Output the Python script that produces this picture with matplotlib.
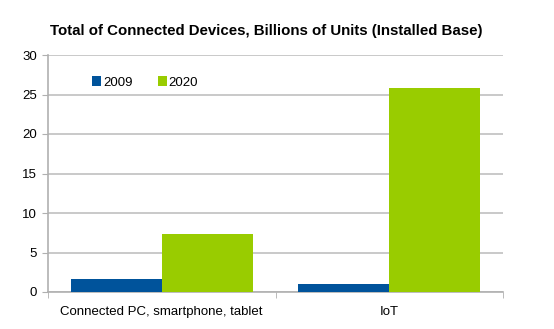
import matplotlib.pyplot as plt
import numpy as np

categories = ["Connected PC, smartphone, tablet", "IoT"]
series_names = ["2009", "2020"]
values_2009 = [1.6, 0.95]
values_2020 = [7.3, 25.8]
colors = ["#00539b", "#99cc00"]

plt.rcParams["font.family"] = ["Liberation Sans", "DejaVu Sans"]

fig = plt.figure(figsize=(5.54, 3.29), dpi=100)
ax = fig.add_axes([48 / 554, 1 - 292 / 329, 455 / 554, 237 / 329])

x = np.arange(len(categories))
w = 0.4
ax.bar(x - w / 2, values_2009, w, color=colors[0], label=series_names[0], zorder=3)
ax.bar(x + w / 2, values_2020, w, color=colors[1], label=series_names[1], zorder=3)

ax.set_xlim(-0.5, len(categories) - 0.5)
ax.set_ylim(0, 30)
ax.set_yticks(range(0, 31, 5))
ax.yaxis.grid(True, color="#c0c0c0", linewidth=1.2, zorder=0)

ax.set_xticks(x)
ax.set_xticklabels(categories, fontsize=9.5)
ax.set_xticks([-0.5, 0.5, 1.5], minor=True)
ax.tick_params(axis="x", which="major", length=0, pad=10)
ax.tick_params(axis="x", which="minor", length=4, color="#b0b0b0", direction="out")
ax.tick_params(axis="y", labelsize=9.5, length=4, color="#b0b0b0", pad=4)

for s in ["top", "right"]:
    ax.spines[s].set_visible(False)
for s in ["left", "bottom"]:
    ax.spines[s].set_color("#b0b0b0")
    ax.spines[s].set_linewidth(1.2)

ax.legend(loc="upper left", bbox_to_anchor=(0.07, 0.96), ncol=2, frameon=False,
          fontsize=9.5, handlelength=0.7, handleheight=0.7, handletextpad=0.15,
          columnspacing=1.9)

fig.suptitle("Total of Connected Devices, Billions of Units (Installed Base)",
             x=266 / 554, y=1 - 24 / 329, fontsize=10.8, fontweight="bold")

fig.savefig("out.png", dpi=100)
